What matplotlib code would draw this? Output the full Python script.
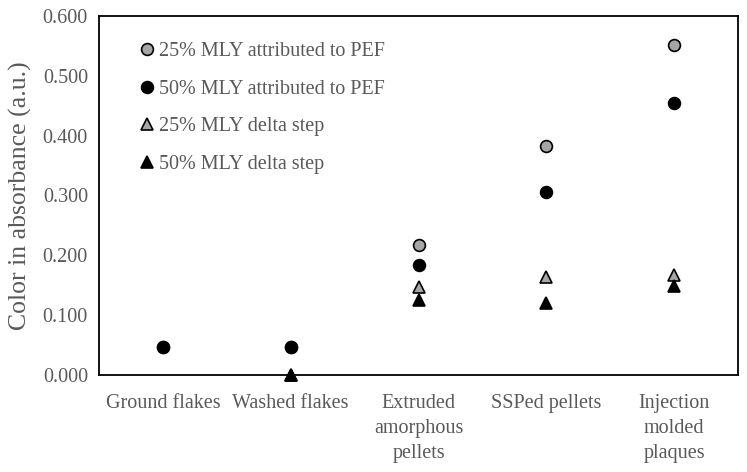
import matplotlib.pyplot as plt
import numpy as np

categories = [
    "Ground flakes",
    "Washed flakes",
    "Extruded\namorphous\npellets",
    "SSPed pellets",
    "Injection\nmolded\nplaques",
]
pef_25 = [0.047, 0.047, 0.218, 0.383, 0.551]
pef_50 = [0.047, 0.047, 0.184, 0.306, 0.455]
delta_25 = [np.nan, 0.000, 0.147, 0.164, 0.167]
delta_50 = [np.nan, 0.000, 0.125, 0.121, 0.149]

series = [
    ("25% MLY attributed to PEF", pef_25, "o", "#a6a6a6"),
    ("50% MLY attributed to PEF", pef_50, "o", "black"),
    ("25% MLY delta step", delta_25, "^", "#a6a6a6"),
    ("50% MLY delta step", delta_50, "^", "black"),
]

plt.rcParams["font.family"] = ["Liberation Serif", "DejaVu Serif"]
text_color = "#595959"

fig = plt.figure(figsize=(7.47, 4.72), dpi=100)
ax = fig.add_axes([99 / 747, 1 - 375 / 472, 639 / 747, 359 / 472])

x = np.arange(len(categories))
for label, vals, marker, color in series:
    ax.plot(x, vals, linestyle="none", marker=marker, markersize=8.5,
            markerfacecolor=color, markeredgecolor="black",
            markeredgewidth=1.2, label=label, clip_on=False)

ax.set_xlim(-0.5, len(categories) - 0.5)
ax.set_ylim(0, 0.6)
ax.set_yticks(np.arange(0, 0.61, 0.1))
ax.set_yticklabels([f"{v:.3f}" for v in np.arange(0, 0.61, 0.1)])
ax.set_xticks(x)
ax.set_xticklabels(categories, linespacing=1.4)
ax.tick_params(axis="both", length=0, labelsize=14.5, colors=text_color, pad=8)
ax.tick_params(axis="x", pad=14)
for s in ax.spines.values():
    s.set_linewidth(1.3)
    s.set_color("black")
ax.set_ylabel("Color in absorbance (a.u.)", fontsize=18.5, color=text_color,
              labelpad=8)

leg = ax.legend(loc="upper left", bbox_to_anchor=(0.045, 0.95), frameon=False,
                fontsize=14.5, handletextpad=0.05, labelspacing=0.92,
                handlelength=1.1, borderaxespad=0)
for t in leg.get_texts():
    t.set_color(text_color)

fig.savefig("out.png", dpi=100)
